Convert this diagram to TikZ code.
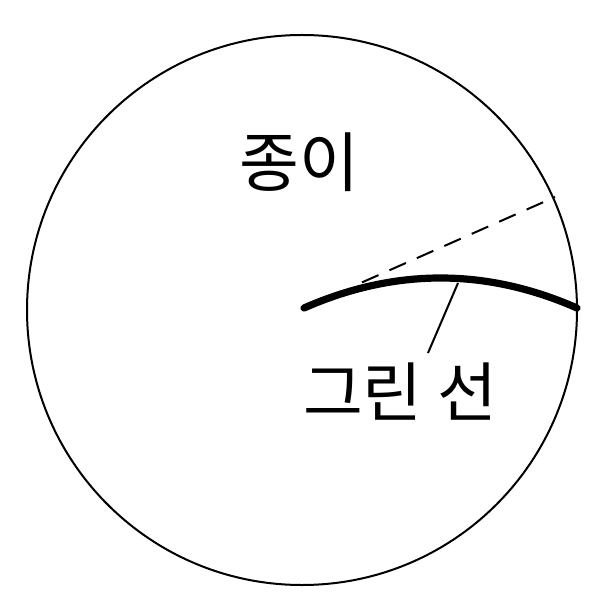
\documentclass[tikz,border=0pt]{standalone}
\usepackage{fontspec}
\newfontfamily\kr{Noto Sans CJK KR}
\begin{document}
\begin{tikzpicture}[x=0.5pt,y=-0.5pt,
  lbl/.style={font=\kr\fontsize{32.5}{36}\selectfont, inner sep=0pt},
  thin/.style={line width=1pt},
  drawn/.style={line width=3.6pt, line cap=round}]
\useasboundingbox (0,0) rectangle (604,604);
\node[circle, draw, thin, minimum size=275pt, inner sep=0pt] (paper) at (302,310) {};
\node[lbl] (paperlbl) at (299,162) {종이};
\node[lbl] (linelbl) at (400,392) {그린 선};
\coordinate (s) at (304,308);
\coordinate (e) at (577,308);
\draw[drawn] (s) .. controls (395,268) and (486,268) .. (e);
\coordinate (d1) at (362,282.4);
\coordinate (d2) at (555,197);
\draw[thin, dashed, dash pattern=on 9pt off 6pt] (d1) -- (d2);
\coordinate (lt) at (458,283);
\coordinate (lb) at (428,353);
\draw[thin] (lt) -- (lb);
\end{tikzpicture}
\end{document}
